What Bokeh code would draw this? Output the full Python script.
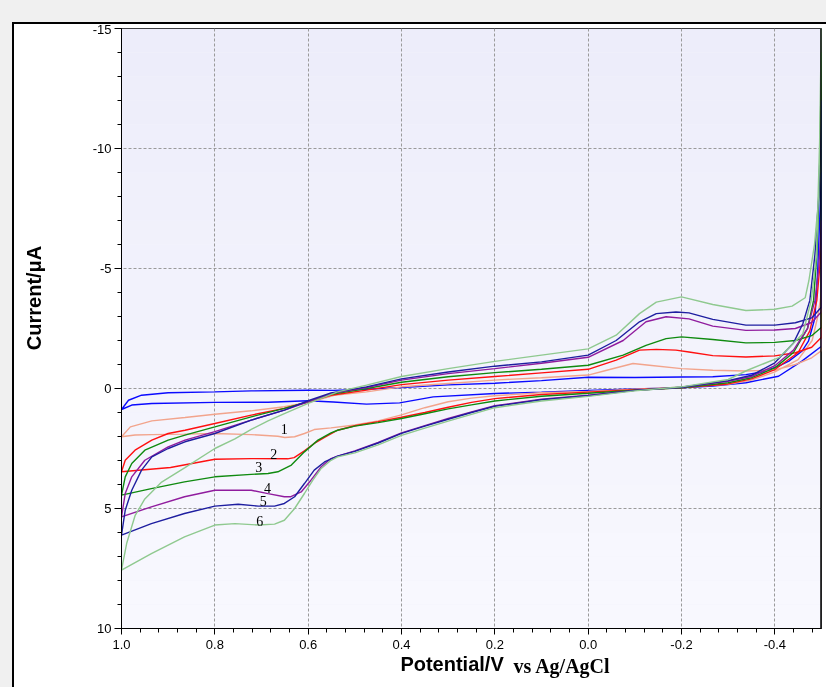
from bokeh.plotting import figure
from bokeh.models import (Range1d, FixedTicker, PrintfTickFormatter, Title,
                          BoxAnnotation, Span, GlobalInlineStyleSheet)
from bokeh.core.properties import value
from bokeh.embed import file_html
from bokeh.resources import INLINE

# ---------------- data (potential in V, current in uA) ----------------
# "fwd" = branch from 1.0 V toward -0.5 V (lower trace), "rev" = branch from -0.5 V back to 1.0 V (upper trace)
blank_fwd_E = [1.0, 0.978, 0.935, 0.8, 0.686, 0.6, 0.546, 0.475, 0.404, 0.332, 0.2, 0.1, 0.0, -0.1, -0.2, -0.267, -0.338, -0.408, -0.458, -0.5]
blank_fwd_I = [0.875, 0.69, 0.625, 0.58, 0.57, 0.51, 0.56, 0.65, 0.6, 0.35, 0.21, 0.15, 0.08, 0.02, -0.03, -0.1, -0.24, -0.51, -1.14, -1.76]
blank_rev_E = [-0.5, -0.492, -0.486, -0.472, -0.458, -0.43, -0.408, -0.373, -0.338, -0.267, -0.2, -0.1, 0.0, 0.1, 0.2, 0.3, 0.4, 0.475, 0.546, 0.6, 0.722, 0.8, 0.9, 0.957, 0.985, 1.0]
blank_rev_I = [-9.0, -5.0, -2.94, -1.97, -1.55, -1.14, -0.93, -0.69, -0.58, -0.49, -0.48, -0.46, -0.47, -0.33, -0.22, -0.15, -0.04, 0.03, 0.08, 0.07, 0.10, 0.14, 0.18, 0.28, 0.49, 0.875]

c1_fwd_E = [1.0, 0.971, 0.935, 0.865, 0.8, 0.722, 0.665, 0.65, 0.629, 0.608, 0.587, 0.551, 0.5, 0.45, 0.4, 0.35, 0.3, 0.25, 0.2, 0.1, 0.0, -0.1, -0.2, -0.3, -0.35, -0.4, -0.45, -0.48, -0.492, -0.5]
c1_fwd_I = [2.01, 1.94, 1.92, 1.9, 1.875, 1.92, 1.99, 2.04, 2.01, 1.875, 1.71, 1.64, 1.52, 1.35, 1.1, 0.8, 0.55, 0.4, 0.3, 0.18, 0.12, 0.03, -0.05, -0.17, -0.35, -0.69, -1.2, -2.0, -3.0, -4.0]
c1_rev_E = [-0.5, -0.479, -0.444, -0.4, -0.338, -0.267, -0.2, -0.131, -0.096, -0.04, 0.0, 0.1, 0.2, 0.3, 0.4, 0.475, 0.544, 0.594, 0.651, 0.722, 0.8, 0.864, 0.935, 0.981, 1.0]
c1_rev_I = [-1.58, -1.28, -1.0, -0.77, -0.73, -0.76, -0.83, -0.97, -1.04, -0.76, -0.56, -0.45, -0.35, -0.21, -0.07, 0.14, 0.28, 0.56, 0.76, 0.93, 1.07, 1.21, 1.35, 1.6, 2.01]

c2_fwd_E = [1.0, 0.895, 0.8, 0.722, 0.644, 0.63, 0.608, 0.587, 0.565, 0.537, 0.5, 0.45, 0.4, 0.35, 0.3, 0.25, 0.2, 0.1, 0.0, -0.1, -0.2, -0.3, -0.35, -0.4, -0.45, -0.475, -0.49, -0.496, -0.5]
c2_fwd_I = [3.47, 3.29, 2.95, 2.92, 2.93, 2.88, 2.6, 2.29, 2.04, 1.74, 1.55, 1.38, 1.2, 1.0, 0.78, 0.58, 0.42, 0.25, 0.15, 0.05, -0.03, -0.19, -0.4, -0.79, -1.5, -2.4, -3.67, -5.0, -6.0]
c2_rev_E = [-0.5, -0.479, -0.444, -0.4, -0.338, -0.267, -0.216, -0.188, -0.146, -0.11, -0.06, 0.0, 0.1, 0.2, 0.3, 0.4, 0.475, 0.551, 0.6, 0.651, 0.722, 0.8, 0.864, 0.9, 0.935, 0.971, 0.992, 1.0]
c2_rev_I = [-2.14, -1.72, -1.49, -1.36, -1.31, -1.37, -1.52, -1.6, -1.63, -1.6, -1.18, -0.8, -0.65, -0.5, -0.35, -0.16, 0.07, 0.28, 0.56, 0.83, 1.11, 1.46, 1.74, 1.875, 2.15, 2.57, 2.99, 3.47]

c3_fwd_E = [1.0, 0.936, 0.865, 0.8, 0.722, 0.686, 0.665, 0.636, 0.608, 0.579, 0.551, 0.537, 0.5, 0.45, 0.4, 0.35, 0.3, 0.25, 0.2, 0.1, 0.0, -0.1, -0.2, -0.3, -0.35, -0.4, -0.44, -0.47, -0.483, -0.49, -0.496, -0.5]
c3_fwd_I = [4.44, 4.17, 3.89, 3.68, 3.58, 3.54, 3.47, 3.19, 2.64, 2.15, 1.85, 1.74, 1.57, 1.42, 1.25, 1.05, 0.85, 0.68, 0.52, 0.32, 0.2, 0.07, -0.03, -0.24, -0.45, -0.86, -1.5, -2.5, -3.67, -5.6, -9.0, -14.0]
c3_rev_E = [-0.5, -0.479, -0.444, -0.4, -0.338, -0.267, -0.2, -0.167, -0.124, -0.075, 0.0, 0.1, 0.2, 0.3, 0.4, 0.475, 0.551, 0.6, 0.651, 0.722, 0.8, 0.864, 0.9, 0.95, 0.978, 0.992, 1.0]
c3_rev_I = [-2.55, -2.2, -2.0, -1.92, -1.9, -2.04, -2.15, -2.08, -1.8, -1.39, -0.97, -0.8, -0.66, -0.49, -0.26, 0.0, 0.24, 0.56, 0.83, 1.18, 1.6, 1.94, 2.15, 2.57, 3.125, 3.68, 4.44]

c4_fwd_E = [1.0, 0.936, 0.865, 0.8, 0.722, 0.686, 0.651, 0.637, 0.615, 0.594, 0.572, 0.551, 0.537, 0.5, 0.45, 0.4, 0.35, 0.3, 0.25, 0.2, 0.1, 0.0, -0.1, -0.2, -0.3, -0.35, -0.4, -0.44, -0.47, -0.486, -0.494, -0.5]
c4_fwd_I = [5.35, 4.93, 4.51, 4.24, 4.24, 4.38, 4.51, 4.51, 4.31, 3.82, 3.26, 2.92, 2.82, 2.6, 2.25, 1.85, 1.55, 1.25, 0.98, 0.72, 0.45, 0.28, 0.08, -0.05, -0.3, -0.5, -0.95, -1.6, -2.5, -3.67, -5.0, -7.0]
c4_rev_E = [-0.5, -0.479, -0.444, -0.4, -0.338, -0.267, -0.216, -0.167, -0.124, -0.075, 0.0, 0.1, 0.2, 0.3, 0.4, 0.475, 0.551, 0.6, 0.651, 0.722, 0.8, 0.864, 0.9, 0.95, 0.978, 0.992, 1.0]
c4_rev_I = [-3.2, -2.75, -2.5, -2.44, -2.42, -2.6, -2.9, -2.99, -2.78, -2.0, -1.3, -1.05, -0.83, -0.62, -0.35, -0.04, 0.21, 0.56, 0.9, 1.32, 1.8, 2.15, 2.43, 2.99, 3.68, 4.375, 5.35]

c5_fwd_E = [1.0, 0.936, 0.865, 0.8, 0.75, 0.707, 0.672, 0.651, 0.629, 0.608, 0.587, 0.565, 0.537, 0.5, 0.45, 0.4, 0.35, 0.3, 0.25, 0.2, 0.1, 0.0, -0.1, -0.2, -0.3, -0.35, -0.4, -0.44, -0.46, -0.475, -0.486, -0.494, -0.5]
c5_fwd_I = [6.11, 5.63, 5.21, 4.9, 4.82, 4.9, 4.9, 4.79, 4.51, 3.96, 3.40, 3.06, 2.82, 2.62, 2.27, 1.87, 1.57, 1.28, 1.0, 0.74, 0.47, 0.3, 0.08, -0.05, -0.33, -0.55, -1.07, -1.9, -2.7, -3.67, -5.6, -8.0, -12.0]
c5_rev_E = [-0.5, -0.479, -0.444, -0.4, -0.338, -0.267, -0.216, -0.188, -0.146, -0.11, -0.06, 0.0, 0.1, 0.2, 0.3, 0.4, 0.475, 0.551, 0.6, 0.651, 0.722, 0.8, 0.864, 0.9, 0.935, 0.957, 0.978, 0.992, 1.0]
c5_rev_I = [-3.4, -2.94, -2.74, -2.64, -2.64, -2.88, -3.15, -3.19, -3.12, -2.78, -2.0, -1.39, -1.11, -0.93, -0.69, -0.4, -0.07, 0.18, 0.51, 0.9, 1.32, 1.875, 2.22, 2.5, 2.85, 3.4, 4.24, 5.07, 6.11]

c6_fwd_E = [1.0, 0.936, 0.865, 0.8, 0.757, 0.707, 0.672, 0.651, 0.629, 0.608, 0.59, 0.572, 0.551, 0.537, 0.5, 0.45, 0.4, 0.35, 0.3, 0.25, 0.2, 0.1, 0.0, -0.1, -0.2, -0.3, -0.34, -0.41, -0.46, -0.478, -0.489, -0.495, -0.5]
c6_fwd_I = [7.57, 6.88, 6.18, 5.69, 5.63, 5.69, 5.65, 5.49, 5.0, 4.375, 3.82, 3.33, 2.99, 2.85, 2.68, 2.35, 1.95, 1.65, 1.36, 1.08, 0.8, 0.52, 0.33, 0.1, -0.07, -0.375, -0.75, -1.3, -2.28, -3.67, -5.5, -9.0, -15.5]
c6_rev_E = [-0.5, -0.497, -0.492, -0.485, -0.473, -0.465, -0.437, -0.4, -0.338, -0.267, -0.2, -0.146, -0.11, -0.06, 0.0, 0.1, 0.2, 0.3, 0.4, 0.475, 0.537, 0.565, 0.6, 0.651, 0.686, 0.722, 0.757, 0.8, 0.864, 0.914, 0.95, 0.971, 0.989, 1.0]
c6_rev_I = [-15.5, -11.0, -7.5, -6.0, -4.5, -3.78, -3.43, -3.3, -3.25, -3.5, -3.82, -3.6, -3.12, -2.22, -1.65, -1.39, -1.13, -0.83, -0.5, -0.14, 0.14, 0.36, 0.62, 1.05, 1.35, 1.7, 2.1, 2.5, 3.3, 3.9, 4.6, 5.3, 6.46, 7.57]

curve_label_text = ["1", "2", "3", "4", "5", "6"]
curve_label_E = [0.651, 0.674, 0.706, 0.687, 0.696, 0.704]
curve_label_I = [1.67, 2.71, 3.25, 4.13, 4.67, 5.5]

x_major = [1.0, 0.8, 0.6, 0.4, 0.2, 0.0, -0.2, -0.4]
y_major = [-15, -10, -5, 0, 5, 10]

x_title = "Potential/V"
x_title_ref = "vs Ag/AgCl"
y_title = "Current/\u03bcA"

# ---------------- figure ----------------
X0, X1, Y0, Y1 = 1.0, -0.5, 10, -15
MT, ML = 24, 14                  # window-style margin (grey) around the white panel
FL, FT, FW, FH = 107, 4, 700, 600

NB = "\u00a0"
p = figure(frame_width=FW, frame_height=FH,
           min_border_left=FL, min_border_right=5, min_border_top=FT, min_border_bottom=59,
           x_range=Range1d(X0, X1), y_range=Range1d(Y0, Y1),
           output_backend="svg", toolbar_location=None)
p.margin = (MT, 0, 0, ML)
p.stylesheets = [GlobalInlineStyleSheet(css=(
    "body { background-color: #f0f0f0; }"
    "body::before { content: ''; position: fixed; left: 12px; top: 22px; width: 3000px; height: 3000px;"
    " border-top: 2px solid #000; border-left: 2px solid #000; background: #fff; z-index: -1; }"))]

p.border_fill_color = "white"
p.background_fill_color = "#f3f3fc"
p.outline_line_color = "black"
p.outline_line_width = 1

# soft vertical gradient in the plotting area
n_bands = 25
for i in range(n_bands):
    t = i / (n_bands - 1)
    r = int(round(237 + t * (248 - 237)))
    b = int(round(250 + t * (254 - 250)))
    col = "#%02x%02x%02x" % (r, r, b)
    p.add_layout(BoxAnnotation(top=Y1 + i, bottom=Y1 + i + 1, fill_color=col, fill_alpha=1.0,
                               line_alpha=0, level="image"))

# axes
p.xaxis.ticker = FixedTicker(ticks=x_major, minor_ticks=[round(1.0 - 0.04 * i, 2) for i in range(38)])
p.yaxis.ticker = FixedTicker(ticks=y_major, minor_ticks=list(range(-15, 11)))
p.xaxis.formatter = PrintfTickFormatter(format="%.1f")
p.yaxis.formatter = PrintfTickFormatter(format="%d")
for ax in (p.xaxis, p.yaxis):
    ax.axis_line_color = "black"
    ax.major_tick_line_color = "black"
    ax.minor_tick_line_color = "black"
    ax.major_tick_in = 0
    ax.minor_tick_in = 0
    ax.minor_tick_out = 4
    ax.major_label_text_font = "Liberation Sans"
    ax.major_label_text_font_size = "13px"
    ax.major_label_text_color = "black"
    ax.axis_label_text_font = "Liberation Sans"
    ax.axis_label_text_font_style = "bold"
    ax.axis_label_text_font_size = "20px"
    ax.axis_label_text_color = "black"
p.xaxis.major_tick_out = 6
p.yaxis.major_tick_out = 7
p.xaxis.major_label_standoff = 5
p.yaxis.major_label_standoff = 3

# axis titles (non-breaking spaces shift the visible text off-centre like the reference)
p.yaxis.axis_label = NB * 11 + y_title
p.yaxis.axis_label_standoff = 45
p.xaxis.axis_label = x_title + NB * 7
p.xaxis.axis_label_standoff = 1

p.add_layout(Title(text=x_title_ref, align="left", offset=392, vertical_align="top", standoff=-46,
                   text_font="Liberation Serif", text_font_style="bold", text_font_size="20px",
                   text_color="black"), "below")

p.grid.grid_line_color = "#9a9a9a"
p.grid.grid_line_dash = "3 2"
p.grid.grid_line_width = 1

# curves
curves = [
    (blank_fwd_E, blank_fwd_I, blank_rev_E, blank_rev_I, "#0a0aff"),
    (c1_fwd_E, c1_fwd_I, c1_rev_E, c1_rev_I, "#f2a48c"),
    (c2_fwd_E, c2_fwd_I, c2_rev_E, c2_rev_I, "#ff1010"),
    (c3_fwd_E, c3_fwd_I, c3_rev_E, c3_rev_I, "#0f8a0f"),
    (c4_fwd_E, c4_fwd_I, c4_rev_E, c4_rev_I, "#901c9e"),
    (c5_fwd_E, c5_fwd_I, c5_rev_E, c5_rev_I, "#1e1ea0"),
    (c6_fwd_E, c6_fwd_I, c6_rev_E, c6_rev_I, "#8fc98f"),
]
for fE, fI, rE, rI, col in curves:
    p.line(fE + rE, fI + rI, line_color=col, line_width=1.4)

p.text(x=curve_label_E, y=curve_label_I, text=curve_label_text,
       text_font=value("Liberation Serif"), text_font_size=value("14px"),
       text_align="center", text_baseline="middle", text_color="black")

# thick right frame edge
p.add_layout(Span(location=X1, dimension="height", line_color="black", line_width=2.5))

open("out.html", "w").write(file_html(p, INLINE))
